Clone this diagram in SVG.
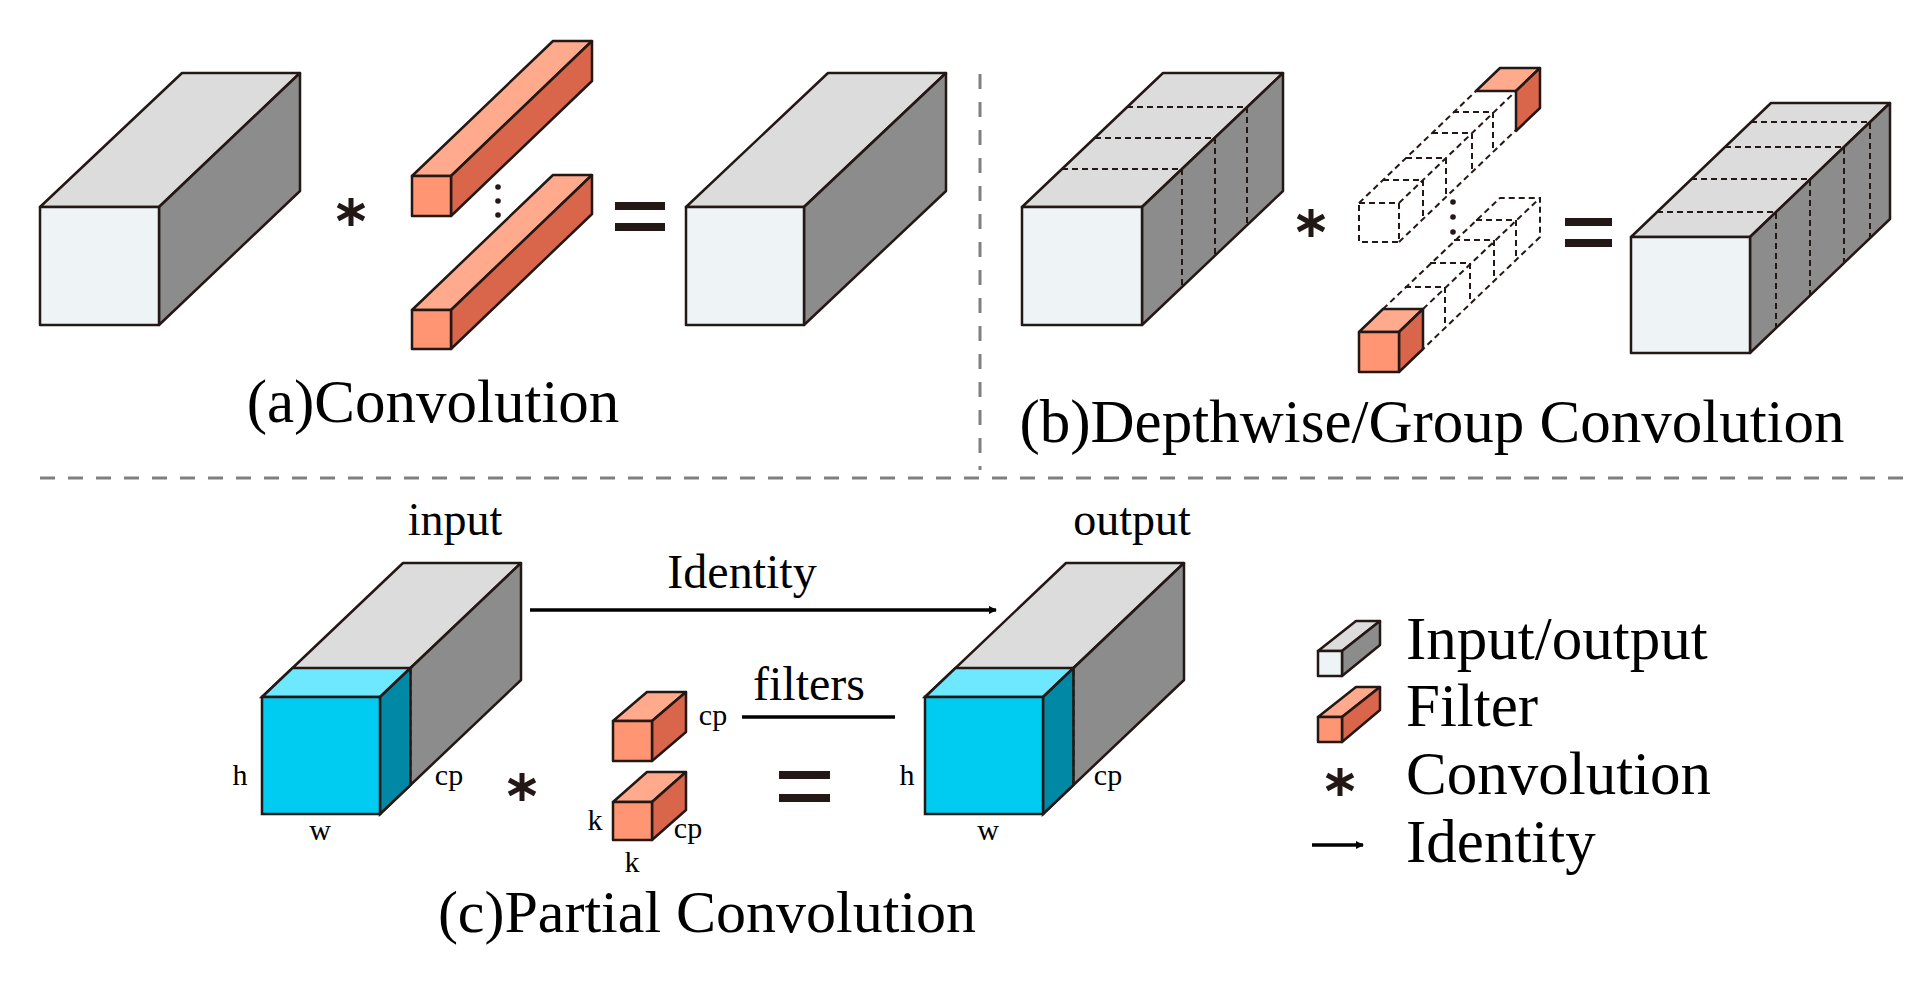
<svg xmlns="http://www.w3.org/2000/svg" width="1930" height="987" viewBox="0 0 1930 987">
<style>
.fr{fill:#EEF3F6;stroke:#231815;stroke-width:2.5;stroke-linejoin:round}
.tp{fill:#DCDCDC;stroke:#231815;stroke-width:2.5;stroke-linejoin:round}
.sd{fill:#8C8C8C;stroke:#231815;stroke-width:2.5;stroke-linejoin:round}
.ofr{fill:#FF9572;stroke:#231815;stroke-width:2.5;stroke-linejoin:round}
.otp{fill:#FFAA8C;stroke:#231815;stroke-width:2.5;stroke-linejoin:round}
.osd{fill:#D9654A;stroke:#231815;stroke-width:2.5;stroke-linejoin:round}
.cfr{fill:#00CCF2;stroke:#231815;stroke-width:2.5}
.ctp{fill:#6EE8FF;stroke:#231815;stroke-width:2.5}
.csd{fill:#0088A5;stroke:#231815;stroke-width:2.5}
.dl{fill:none;stroke:#231815;stroke-width:2;stroke-dasharray:6 4}
.sep{fill:none;stroke:#808080;stroke-width:3;stroke-dasharray:15 13}
.ast{stroke:#231815;stroke-width:5;stroke-linecap:butt}
.eq{fill:#231815}
.t{font-family:"Liberation Serif","Times New Roman",serif;fill:#000}
</style>
<defs>
<marker id="ah" markerWidth="8" markerHeight="8" refX="7" refY="4" orient="auto" markerUnits="userSpaceOnUse" viewBox="0 0 8 8"><path d="M0,0 L8,4 L0,8 z" fill="#000"/></marker>
<g id="star"><line class="ast" x1="0" y1="-14" x2="0" y2="14"/><line class="ast" x1="-13" y1="-7" x2="13" y2="7"/><line class="ast" x1="-13" y1="7" x2="13" y2="-7"/></g>
</defs>

<g id="separators">
<line class="sep" x1="40" y1="478" x2="1905" y2="478"/>
<line class="sep" x1="980" y1="74" x2="980" y2="470"/>
</g>

<g id="a-input">
<polygon class="tp" points="40,207 159,207 300,73 182,73"/>
<polygon class="sd" points="159,207 300,73 300,191 159,325"/>
<rect class="fr" x="40" y="207" width="119" height="118"/>
</g>
<g id="a-filters">
<polygon class="otp" points="412,176 451,176 592,41 553,41"/>
<polygon class="osd" points="451,176 592,41 592,81 451,216"/>
<rect class="ofr" x="412" y="176" width="39" height="40"/>
<polygon class="otp" points="412,310 451,310 592,175 553,175"/>
<polygon class="osd" points="451,310 592,175 592,214 451,349"/>
<rect class="ofr" x="412" y="310" width="39" height="39"/>
<circle cx="498" cy="187" r="2.8" fill="#231815"/>
<circle cx="498" cy="201" r="2.8" fill="#231815"/>
<circle cx="498" cy="215" r="2.8" fill="#231815"/>
</g>
<g id="a-ops">
<use href="#star" x="351" y="212"/>
<rect class="eq" x="615" y="202" width="50" height="8"/>
<rect class="eq" x="615" y="223" width="50" height="8"/>
</g>
<g id="a-output">
<polygon class="tp" points="686,207 804,207 946,73 828,73"/>
<polygon class="sd" points="804,207 946,73 946,191 804,325"/>
<rect class="fr" x="686" y="207" width="118" height="118"/>
</g>
<text class="t" x="433" y="422" font-size="61" text-anchor="middle">(a)Convolution</text>

<g id="b-input">
<polygon class="tp" points="1022,207 1142,207 1283,73 1163,73"/>
<polygon class="sd" points="1142,207 1283,73 1283,191 1142,325"/>
<rect class="fr" x="1022" y="207" width="120" height="118"/>
<path class="dl" d="M1062,169 H1182 V287 M1095,138 H1215 V256 M1127,107 H1247 V225"/>
</g>
<g id="b-filters">
<path class="dl" d="M1359,203 H1399 V242 H1359 Z M1359,203 L1476,91 M1399,203 L1516,91 M1399,242 L1516,130 M1383,180 H1423 V219 M1406,158 H1446 V197 M1432,133 H1472 V172 M1453,112 H1493 V151"/>
<polygon class="otp" points="1476,91 1516,91 1540,68 1500,68"/>
<polygon class="osd" points="1516,91 1540,68 1540,108 1516,131"/>
<path class="dl" d="M1383,309 L1500,198 H1540 V237 L1423,349 M1423,309 L1540,198 M1405,287 H1445 V326 M1430,263 H1470 V302 M1454,240 H1494 V279 M1476,220 H1516 V259"/>
<polygon class="otp" points="1359,332 1399,332 1423,309 1383,309"/>
<polygon class="osd" points="1399,332 1423,309 1423,349 1399,372"/>
<rect class="ofr" x="1359" y="332" width="40" height="40"/>
<circle cx="1453" cy="202" r="2.8" fill="#231815"/>
<circle cx="1453" cy="217" r="2.8" fill="#231815"/>
<circle cx="1453" cy="232" r="2.8" fill="#231815"/>
</g>
<g id="b-ops">
<use href="#star" x="1311" y="223"/>
<rect class="eq" x="1565" y="218" width="47" height="8"/>
<rect class="eq" x="1565" y="239" width="47" height="8"/>
</g>
<g id="b-output">
<polygon class="tp" points="1631,237 1750,237 1890,103 1771,103"/>
<polygon class="sd" points="1750,237 1890,103 1890,219 1750,353"/>
<rect class="fr" x="1631" y="237" width="119" height="116"/>
<path class="dl" d="M1657,212 H1776 V328 M1691,179 H1810 V295 M1725,147 H1844 V263 M1751,122 H1870 V238"/>
</g>
<text class="t" x="1432" y="442" font-size="61" text-anchor="middle">(b)Depthwise/Group Convolution</text>

<g id="c-input">
<polygon class="tp" points="262,697 380,697 521,563 403,563"/>
<polygon class="sd" points="380,697 521,563 521,680 380,814"/>
<polygon class="ctp" points="262,697 380,697 410.5,668 292.5,668"/>
<polygon class="csd" points="380,697 410.5,668 410.5,785 380,814"/>
<rect class="cfr" x="262" y="697" width="118" height="117"/>
<path class="dl" d="M292.5,668 H410.5 V785"/>
<text class="t" x="455" y="535" font-size="46" text-anchor="middle">input</text>
<text class="t" x="240" y="785" font-size="30" text-anchor="middle">h</text>
<text class="t" x="320" y="840" font-size="30" text-anchor="middle">w</text>
<text class="t" x="449" y="785" font-size="30" text-anchor="middle">cp</text>
</g>
<g id="c-filters">
<polygon class="otp" points="613,721 652,721 686,692 647,692"/>
<polygon class="osd" points="652,721 686,692 686,732 652,761"/>
<rect class="ofr" x="613" y="721" width="39" height="40"/>
<polygon class="otp" points="613,802 652,802 686,772 647,772"/>
<polygon class="osd" points="652,802 686,772 686,810 652,840"/>
<rect class="ofr" x="613" y="802" width="39" height="38"/>
<text class="t" x="713" y="725" font-size="30" text-anchor="middle">cp</text>
<text class="t" x="595" y="830" font-size="30" text-anchor="middle">k</text>
<text class="t" x="688" y="838" font-size="30" text-anchor="middle">cp</text>
<text class="t" x="632" y="872" font-size="30" text-anchor="middle">k</text>
<text class="t" x="809" y="700" font-size="48" text-anchor="middle">filters</text>
</g>
<g id="c-output">
<polygon class="tp" points="925,697 1043,697 1184,563 1066,563"/>
<polygon class="sd" points="1043,697 1184,563 1184,680 1043,814"/>
<polygon class="ctp" points="925,697 1043,697 1073.5,668 955.5,668"/>
<polygon class="csd" points="1043,697 1073.5,668 1073.5,785 1043,814"/>
<rect class="cfr" x="925" y="697" width="118" height="117"/>
<path class="dl" d="M955.5,668 H1073.5 V785"/>
<text class="t" x="1132" y="535" font-size="46" text-anchor="middle">output</text>
<text class="t" x="907" y="785" font-size="30" text-anchor="middle">h</text>
<text class="t" x="988" y="840" font-size="30" text-anchor="middle">w</text>
<text class="t" x="1108" y="785" font-size="30" text-anchor="middle">cp</text>
</g>
<g id="connectors">
<line x1="530" y1="610" x2="996" y2="610" stroke="#000" stroke-width="3.5" marker-end="url(#ah)"/>
<line x1="742" y1="717" x2="895" y2="717" stroke="#000" stroke-width="3.5"/>
</g>
<text class="t" x="742" y="588" font-size="48" text-anchor="middle">Identity</text>
<g id="c-ops">
<use href="#star" x="522" y="787"/>
<rect class="eq" x="779" y="771" width="51" height="8"/>
<rect class="eq" x="779" y="794" width="51" height="8"/>
</g>
<text class="t" x="707" y="932" font-size="60" text-anchor="middle">(c)Partial Convolution</text>

<g id="legend">
<polygon class="tp" points="1318,651 1342,651 1380,621 1356,621" stroke-width="1.8"/>
<polygon class="sd" points="1342,651 1380,621 1380,645 1342,676" stroke-width="1.8"/>
<rect class="fr" x="1318" y="651" width="24" height="25" stroke-width="1.8"/>
<polygon class="otp" points="1318,717 1342,717 1380,687 1356,687" stroke-width="1.8"/>
<polygon class="osd" points="1342,717 1380,687 1380,710 1342,742" stroke-width="1.8"/>
<rect class="ofr" x="1318" y="717" width="24" height="25" stroke-width="1.8"/>
<use href="#star" x="1340" y="782"/>
<line x1="1312" y1="845" x2="1363" y2="845" stroke="#000" stroke-width="3.5" marker-end="url(#ah)"/>
<text class="t" x="1406" y="659" font-size="61">Input/output</text>
<text class="t" x="1406" y="726" font-size="61">Filter</text>
<text class="t" x="1406" y="794" font-size="61">Convolution</text>
<text class="t" x="1406" y="862" font-size="61">Identity</text>
</g>
</svg>
